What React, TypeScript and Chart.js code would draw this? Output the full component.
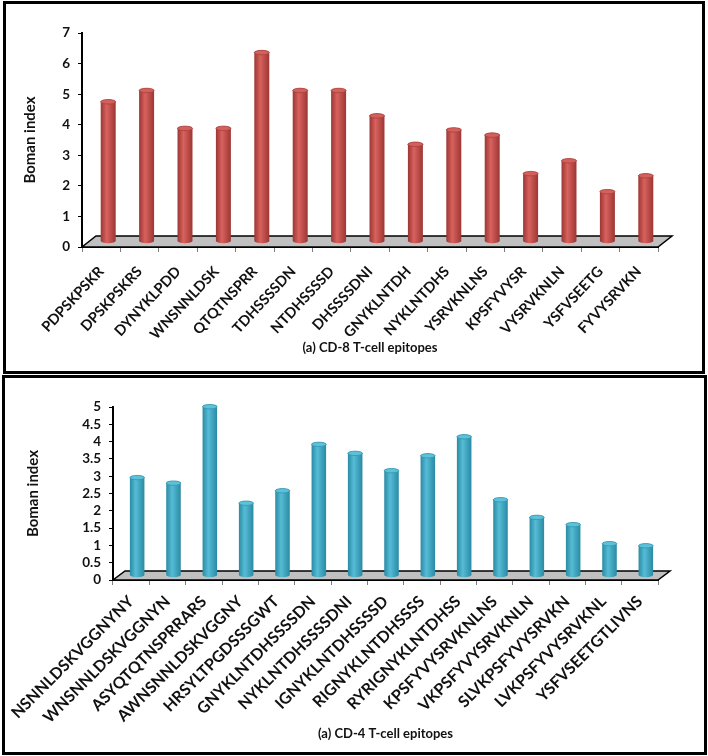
import React, { useEffect, useRef } from "react";
import { Chart, registerables } from "chart.js";

Chart.register(...registerables);

const CD8_LABELS = [
  "PDPSKPSKR", "DPSKPSKRS", "DYNYKLPDD", "WNSNNLDSK", "QTQTNSPRR",
  "TDHSSSSDN", "NTDHSSSSD", "DHSSSSDNI", "GNYKLNTDH", "NYKLNTDHS",
  "YSRVKNLNS", "KPSFYVYSR", "VYSRVKNLN", "YSFVSEETG", "FYVYSRVKN",
];
const CD8_VALUES = [4.57, 4.94, 3.7, 3.7, 6.18, 4.94, 4.94, 4.11, 3.18, 3.65, 3.48, 2.22, 2.64, 1.63, 2.15];

const CD4_LABELS = [
  "NSNNLDSKVGGNYNY", "WNSNNLDSKVGGNYN", "ASYQTQTNSPRRARS", "AWNSNNLDSKVGGNY", "HRSYLTPGDSSSGWT",
  "GNYKLNTDHSSSSDN", "NYKLNTDHSSSSDNI", "IGNYKLNTDHSSSSD", "RIGNYKLNTDHSSSS", "RYRIGNYKLNTDHSS",
  "KPSFYVYSRVKNLNS", "VKPSFYVYSRVKNLN", "SLVKPSFYVYSRVKN", "LVKPSFYVYSRVKNL", "YSFVSEETGTLIVNS",
];
const CD4_VALUES = [2.83, 2.67, 4.88, 2.09, 2.45, 3.79, 3.53, 3.03, 3.46, 4.01, 2.19, 1.68, 1.47, 0.92, 0.86];

const CD8_CAPTION = "(a) CD-8 T-cell epitopes";
const CD4_CAPTION = "(a) CD-4 T-cell epitopes";
const Y_TITLE = "Boman index";

const FONT = "Lato, 'Open Sans', sans-serif";

const cylinderPlugin = {
  id: "cyl3d",
  beforeDatasetsDraw(chart: any, _a: any, opts: any) {
    const { ctx, chartArea } = chart;
    const y0 = chart.scales.y.getPixelForValue(0);
    const { dx, dy } = opts;
    ctx.save();
    ctx.beginPath();
    ctx.moveTo(chartArea.left, y0);
    ctx.lineTo(chartArea.right, y0);
    ctx.lineTo(chartArea.right + dx, y0 + dy);
    ctx.lineTo(chartArea.left + dx, y0 + dy);
    ctx.closePath();
    ctx.fillStyle = "#c0c0c0";
    ctx.fill();
    ctx.strokeStyle = "#000";
    ctx.lineWidth = 1.5;
    ctx.stroke();
    ctx.restore();
  },
  afterDatasetsDraw(chart: any, _a: any, opts: any) {
    const { ctx } = chart;
    const { dx, dy, dark, light, cap, edge } = opts;
    const meta = chart.getDatasetMeta(0);
    ctx.save();
    meta.data.forEach((el: any) => {
      const p = el.getProps(["x", "y", "base", "width"], true);
      const cx = p.x + dx / 2;
      const top = p.y + dy / 2;
      const bot = p.base + dy / 2;
      const r = p.width / 2;
      const ry = r * 0.3;
      const g = ctx.createLinearGradient(cx - r, 0, cx + r, 0);
      g.addColorStop(0, dark);
      g.addColorStop(0.4, light);
      g.addColorStop(1, dark);
      ctx.beginPath();
      ctx.moveTo(cx - r, top);
      ctx.lineTo(cx - r, bot);
      ctx.ellipse(cx, bot, r, ry, 0, Math.PI, 0, true);
      ctx.lineTo(cx + r, top);
      ctx.ellipse(cx, top, r, ry, 0, 0, Math.PI, true);
      ctx.closePath();
      ctx.fillStyle = g;
      ctx.fill();
      ctx.beginPath();
      ctx.ellipse(cx, top, r, ry, 0, 0, Math.PI * 2);
      ctx.fillStyle = cap;
      ctx.fill();
      ctx.strokeStyle = edge;
      ctx.lineWidth = 0.8;
      ctx.stroke();
    });
    ctx.restore();
  },
};

type PanelProps = {
  labels: string[];
  values: number[];
  caption: string;
  yMax: number;
  yStep: number;
  width: number;
  height: number;
  padTop: number;
  padRight: number;
  yAxisWidth: number;
  xAxisHeight: number;
  rotation: number;
  xFont: number;
  xPad: number;
  capPad: number;
  barPct: number;
  dx: number;
  dy: number;
  dark: string;
  light: string;
  cap: string;
  edge: string;
  titlePad: number;
};

function BarPanel(props: PanelProps) {
  const ref = useRef<HTMLCanvasElement>(null);
  useEffect(() => {
    const chart = new Chart(ref.current as HTMLCanvasElement, {
      type: "bar",
      data: {
        labels: props.labels,
        datasets: [
          {
            data: props.values,
            backgroundColor: "rgba(0,0,0,0)",
            borderWidth: 0,
            categoryPercentage: 1,
            barPercentage: props.barPct,
          },
        ],
      },
      options: {
        animation: false,
        responsive: false,
        maintainAspectRatio: false,
        layout: { padding: { top: props.padTop, right: props.padRight, left: 0, bottom: 0 } },
        plugins: {
          legend: { display: false },
          tooltip: { enabled: false },
          cyl3d: { dx: props.dx, dy: props.dy, dark: props.dark, light: props.light, cap: props.cap, edge: props.edge },
        } as any,
        scales: {
          x: {
            offset: true,
            afterFit: (s: any) => {
              s.height = props.xAxisHeight;
            },
            grid: {
              offset: true,
              drawOnChartArea: false,
              drawTicks: true,
              tickLength: 5,
              color: "#7f7f7f",
            },
            border: { display: true, color: "#000", width: 2 },
            ticks: {
              autoSkip: false,
              minRotation: props.rotation,
              maxRotation: props.rotation,
              padding: props.xPad,
              color: "#111",
              font: { family: FONT, size: props.xFont, weight: "bold" },
            },
            title: {
              display: true,
              text: props.caption,
              color: "#111",
              padding: { top: 0, bottom: props.capPad },
              font: { family: FONT, size: 13, weight: "bold" },
            },
          },
          y: {
            min: 0,
            max: props.yMax,
            afterFit: (s: any) => {
              s.width = props.yAxisWidth;
            },
            grid: {
              drawOnChartArea: false,
              drawTicks: true,
              tickLength: 4,
              color: "#000",
            },
            border: { display: true, color: "#000", width: 2 },
            ticks: {
              stepSize: props.yStep,
              autoSkip: false,
              padding: 8,
              color: "#111",
              font: { family: FONT, size: 13.5, weight: "bold" },
              callback: (v: any) => String(Math.round(Number(v) * 10) / 10),
            },
            title: {
              display: true,
              text: Y_TITLE,
              color: "#111",
              padding: { top: props.titlePad, bottom: 0 },
              font: { family: FONT, size: 15, weight: "bold" },
            },
          },
        },
      },
      plugins: [cylinderPlugin],
    });
    return () => chart.destroy();
  }, []);
  return <canvas ref={ref} width={props.width} height={props.height} style={{ display: "block" }} />;
}

export default function App() {
  return (
    <div style={{ position: "absolute", left: 0, top: 0, width: 708, height: 756, background: "#fff", overflow: "hidden" }}>
      <div style={{ position: "absolute", left: 0, top: 0 }}>
        <BarPanel
          labels={CD8_LABELS}
          values={CD8_VALUES}
          caption={CD8_CAPTION}
          yMax={7}
          yStep={1}
          width={708}
          height={372}
          padTop={33}
          padRight={50}
          yAxisWidth={82}
          xAxisHeight={125}
          rotation={47}
          xFont={14.5}
          xPad={11}
          capPad={16}
          barPct={0.39}
          dx={14}
          dy={-11}
          dark="#9c3633"
          light="#d8625e"
          cap="#d4605c"
          edge="#a8403d"
          titlePad={21}
        />
      </div>
      <div style={{ position: "absolute", left: 0, top: 376 }}>
        <BarPanel
          labels={CD4_LABELS}
          values={CD4_VALUES}
          caption={CD4_CAPTION}
          yMax={5}
          yStep={0.5}
          width={708}
          height={380}
          padTop={31}
          padRight={50}
          yAxisWidth={113}
          xAxisHeight={176}
          rotation={45}
          xFont={16}
          xPad={7}
          capPad={14}
          barPct={0.4}
          dx={12}
          dy={-9}
          dark="#2a8aa3"
          light="#56bcd6"
          cap="#5cc2da"
          edge="#3396ae"
          titlePad={24}
        />
      </div>
      <div style={{ position: "absolute", left: 3, top: 1, width: 702, height: 373, border: "3px solid #000", boxSizing: "border-box", pointerEvents: "none" }} />
      <div style={{ position: "absolute", left: 2, top: 375, width: 705, height: 380, border: "3px solid #000", boxSizing: "border-box", pointerEvents: "none" }} />
    </div>
  );
}
